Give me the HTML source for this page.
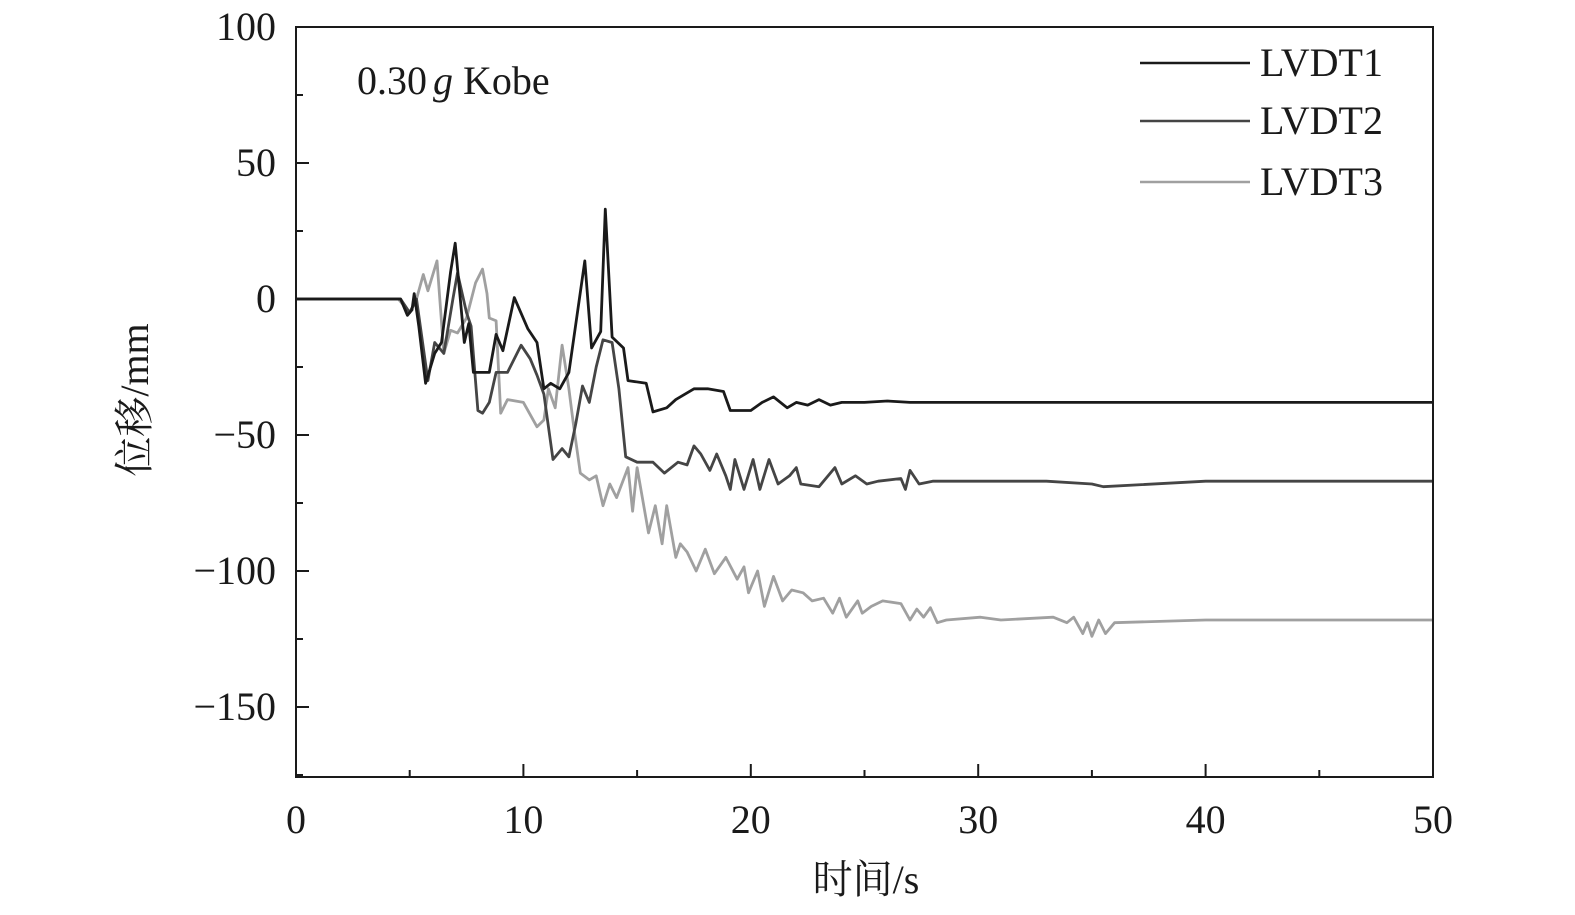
<!DOCTYPE html>
<html><head><meta charset="utf-8"><style>
html,body{margin:0;padding:0;background:#fff;}
svg{display:block;font-family:"Liberation Serif","Noto Serif CJK SC",serif;}
</style></head><body>
<svg id="chart" width="1575" height="915" viewBox="0 0 1575 915" xmlns="http://www.w3.org/2000/svg">
<g id="ticks"></g>
<g id="series"></g>
<rect x="296" y="27" width="1137" height="750" fill="none" stroke="#1a1a1a" stroke-width="2"/>
<text x="357" y="94" font-size="40" fill="#1a1a1a">0.30<tspan font-style="italic" dx="6">g</tspan> Kobe</text>
<text x="866" y="893" font-size="40" text-anchor="middle" fill="#1a1a1a">时间/s</text>
<text transform="translate(148,400) rotate(-90)" font-size="40" text-anchor="middle" fill="#1a1a1a">位移/mm</text>
<g>
<line x1="1140" y1="63" x2="1250" y2="63" stroke="#1a1a1a" stroke-width="2.5"/>
<text x="1260" y="76" font-size="40" fill="#1a1a1a">LVDT1</text>
<line x1="1140" y1="121" x2="1250" y2="121" stroke="#454545" stroke-width="2.5"/>
<text x="1260" y="134" font-size="40" fill="#1a1a1a">LVDT2</text>
<line x1="1140" y1="182" x2="1250" y2="182" stroke="#a0a0a0" stroke-width="2.5"/>
<text x="1260" y="195" font-size="40" fill="#1a1a1a">LVDT3</text>
</g>
</svg>
<script>
const xTicks=[0,10,20,30,40,50];
const xMinor=[5,15,25,35,45];
const yTicks=[100,50,0,-50,-100,-150];
const yMinor=[75,25,-25,-75,-125,-175];
const lvdt1T=[0,4.6,4.9,5.1,5.2,5.4,5.7,6.1,6.4,6.8,7.0,7.4,7.6,7.8,8.5,8.8,9.1,9.6,10.2,10.6,10.9,11.2,11.6,12.0,12.7,13.0,13.4,13.6,13.9,14.4,14.6,15.4,15.7,16.3,16.7,17.5,18.1,18.8,19.1,20,20.5,21,21.6,22,22.5,23,23.5,24,25,26,27,28,30,33,36,40,45,50];
const lvdt1V=[0,0,-6,-4,2,-10,-31,-20,-16,10,20.5,-16,-9,-27,-27,-13,-19,0.5,-11,-16,-33,-31,-33,-27,14,-18,-12,33,-14,-18,-30,-31,-41.5,-40,-37,-33,-33,-34,-41,-41,-38,-36,-40,-38,-39,-37,-39,-38,-38,-37.5,-38,-38,-38,-38,-38,-38,-38,-38];
const lvdt2T=[0,4.6,5.0,5.3,5.8,6.1,6.5,6.9,7.1,7.5,7.7,8.0,8.2,8.5,8.8,9.3,9.9,10.3,10.6,10.9,11.3,11.7,12.0,12.3,12.6,12.9,13.2,13.5,13.9,14.2,14.5,15,15.7,16.2,16.8,17.2,17.5,17.8,18.2,18.5,18.9,19.1,19.3,19.7,20.1,20.4,20.8,21.2,21.7,22.0,22.2,23.0,23.7,24.0,24.6,25.1,25.6,26.6,26.8,27.0,27.4,28,30,33,35,35.5,40,45,50];
const lvdt2V=[0,0,-5,0,-30,-16,-20,0,9.6,-5,-10,-41,-42,-38,-27,-27,-17,-22,-28,-35,-59,-55,-58,-46,-32,-38,-25,-15,-16,-33,-58,-60,-60,-64,-60,-61,-54,-57,-63,-57,-65,-70,-59,-70,-59,-70,-59,-68,-65,-62,-68,-69,-62,-68,-65,-68,-67,-66,-70,-63,-68,-67,-67,-67,-68,-69,-67,-67,-67];
const lvdt3T=[0,4.5,5.0,5.3,5.6,5.8,6.2,6.5,6.8,7.1,7.5,7.9,8.2,8.4,8.5,8.8,9.0,9.3,10.0,10.6,10.9,11.1,11.4,11.7,12.0,12.2,12.5,12.9,13.2,13.5,13.8,14.1,14.6,14.8,15.0,15.5,15.8,16.1,16.3,16.7,16.9,17.2,17.6,18.0,18.4,18.9,19.4,19.7,19.9,20.3,20.6,21.0,21.4,21.8,22.3,22.7,23.2,23.6,23.9,24.2,24.7,24.9,25.3,25.8,26.6,27.0,27.3,27.6,27.9,28.2,28.6,30.1,31,33.3,33.9,34.2,34.6,34.8,35.0,35.3,35.6,36.0,40,45,50];
const lvdt3V=[0,0,-5,0,9,3,14,-20,-11.5,-12.5,-7,6,11,2,-7,-8,-42,-37,-38,-47,-44.5,-33,-40,-17,-33,-46,-64,-66.5,-65,-76,-68,-73,-62,-78,-62,-86,-76,-90,-76,-95,-90,-93,-100,-92,-101,-95,-103,-98.5,-108,-100,-113,-102,-111,-107,-108,-111,-110,-115.5,-110,-117,-111,-115.5,-113,-111,-112,-118,-114,-117,-113.5,-119,-118,-117,-118,-117,-119,-117,-123,-119,-124,-118,-123,-119,-118,-118,-118];

const NS='http://www.w3.org/2000/svg';
const X0=296,X1=1433,Y100=27,Y0=299;
const xs=t=>X0+(t/50)*(X1-X0);
const ys=v=>Y0-v*(Y0-Y100)/100;
const tg=document.getElementById('ticks');
function mk(tag,attrs,parent){const e=document.createElementNS(NS,tag);for(const k in attrs)e.setAttribute(k,attrs[k]);parent.appendChild(e);return e;}
xTicks.forEach(t=>{
  const l=mk('line',{x1:xs(t),x2:xs(t),y1:777,y2:764,stroke:'#1a1a1a','stroke-width':2},tg);
  
  
  const tx=mk('text',{x:xs(t),y:833,'font-size':40,'text-anchor':'middle',fill:'#1a1a1a'},tg);
  
  
  tx.textContent=t;
});
xMinor.forEach(t=>{
  const l=mk('line',{x1:xs(t),x2:xs(t),y1:777,y2:770,stroke:'#1a1a1a','stroke-width':2},tg);
  
  
});
yTicks.forEach(v=>{
  const l=mk('line',{x1:296,x2:309,y1:ys(v),y2:ys(v),stroke:'#1a1a1a','stroke-width':2},tg);
  
  
  const tx=mk('text',{x:276,y:ys(v)+13,'font-size':40,'text-anchor':'end',fill:'#1a1a1a'},tg);
  
  
  tx.textContent=v<0?'\u2212'+Math.abs(v):String(v);
});
yMinor.forEach(v=>{
  if(ys(v)>777)return;
  const l=mk('line',{x1:296,x2:303,y1:ys(v),y2:ys(v),stroke:'#1a1a1a','stroke-width':2},tg);
  
  
});
const sg=document.getElementById('series');
function line(T,V,color,name){
  const d=T.map((t,i)=>(i?'L':'M')+xs(t).toFixed(1)+','+ys(V[i]).toFixed(1)).join('');
  const p=mk('path',{d:d,fill:'none',stroke:color,'stroke-width':2.8,'stroke-linejoin':'round'},sg);
  
  
}
line(lvdt3T,lvdt3V,'#a0a0a0','series-lvdt3');
line(lvdt2T,lvdt2V,'#454545','series-lvdt2');
line(lvdt1T,lvdt1V,'#1a1a1a','series-lvdt1');
</script>
</body></html>
